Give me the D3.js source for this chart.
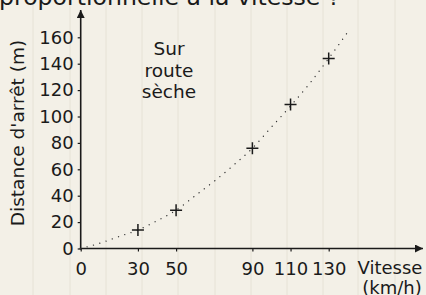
<!DOCTYPE html>
<meta charset="utf-8">
<style>
body { margin: 0; background: #f3f0e7; }
svg { display: block; }
text { font-family: "DejaVu Sans", sans-serif; fill: #1a1a1a; }
</style>
<svg width="426" height="295"></svg>
<script src="https://d3js.org/d3.v7.min.js"></script>
<script>

// measured stopping distances (dry road)
var speeds = [30, 50, 90, 110, 130];
var distances = [14, 29, 76, 109, 144];
var xTicks = [0, 30, 50, 90, 110, 130];
var yTicks = [0, 20, 40, 60, 80, 100, 120, 140, 160];
// dotted trend curve
var curveSpeeds = [0, 10, 20, 30, 40, 50, 60, 70, 80, 90, 100, 110, 120, 130, 140];
var curveDist = [0, 4, 9, 14, 21, 29, 40, 51, 63, 76, 92, 108, 125, 144, 164];

var svg = d3.select("svg");

var x = d3.scaleLinear().domain([0, 130]).range([80.7, 328.7]);
var y = d3.scaleLinear().domain([0, 160]).range([248.5, 37.3]);

// paper lines
var paper = [33, 70, 106, 142, 178, 215, 251, 287, 323, 358, 395];
svg.append("g").selectAll("line").data(paper).enter().append("line")
    .attr("x1", function(d) { return d; }).attr("x2", function(d) { return d; })
    .attr("y1", 0).attr("y2", 295)
    .attr("stroke", "#e6e2d6").attr("stroke-width", 1);

// title, partly cut at the top
svg.append("text").attr("x", -1).attr("y", 4.5)
    .style("font-size", "23.6px")
    .text("proportionnelle à la vitesse ?");

// arrow marker
svg.append("defs").append("marker")
    .attr("id", "arrow")
    .attr("viewBox", "0 0 10 10")
    .attr("refX", 10).attr("refY", 5)
    .attr("markerWidth", 10).attr("markerHeight", 8)
    .attr("markerUnits", "userSpaceOnUse")
    .attr("orient", "auto")
  .append("path").attr("d", "M0,0L10,5L0,10z").attr("fill", "#1a1a1a");

// axes
var xAxis = svg.append("g").attr("transform", "translate(0," + y(0) + ")")
    .call(d3.axisBottom(x).tickValues(xTicks).tickSize(3).tickPadding(11).tickFormat(d3.format("d")));
var yAxis = svg.append("g").attr("transform", "translate(" + x(0) + ",0)")
    .call(d3.axisLeft(y).tickValues(yTicks).tickSize(3).tickPadding(4).tickFormat(d3.format("d")));

[xAxis, yAxis].forEach(function(a) {
  a.select(".domain").remove();
  a.selectAll("line").attr("stroke", "#1a1a1a").attr("stroke-width", 1.2);
  a.selectAll("text").style("font-size", "18px").attr("fill", "#1a1a1a");
});

svg.append("line").attr("x1", x(0) - 1).attr("x2", 423).attr("y1", y(0)).attr("y2", y(0))
    .attr("stroke", "#1a1a1a").attr("stroke-width", 1.6).attr("marker-end", "url(#arrow)");
svg.append("line").attr("x1", x(0)).attr("x2", x(0)).attr("y1", y(0) + 1).attr("y2", 10)
    .attr("stroke", "#1a1a1a").attr("stroke-width", 1.6).attr("marker-end", "url(#arrow)");

// axis titles
svg.append("text").attr("transform", "translate(24,133) rotate(-90)")
    .attr("text-anchor", "middle").style("font-size", "18.5px")
    .text("Distance d'arrêt (m)");
svg.append("text").attr("x", 390).attr("y", 274).attr("text-anchor", "middle")
    .style("font-size", "18px").text("Vitesse");
svg.append("text").attr("x", 392).attr("y", 294).attr("text-anchor", "middle")
    .style("font-size", "18px").text("(km/h)");

// annotation
var note = svg.append("text").attr("text-anchor", "middle").style("font-size", "18.5px");
["Sur", "route", "sèche"].forEach(function(t, i) {
  note.append("tspan").attr("x", 169).attr("y", 55 + i * 21.7).text(t);
});

// dotted curve
var curvePts = curveSpeeds.map(function(v, i) { return [v, curveDist[i]]; });
svg.append("path")
    .datum(curvePts)
    .attr("fill", "none")
    .attr("stroke", "#333")
    .attr("stroke-width", 1.3)
    .attr("stroke-linecap", "round")
    .attr("stroke-dasharray", "0.1,6.5")
    .attr("d", d3.line().x(function(d) { return x(d[0]); }).y(function(d) { return y(d[1]); })
      .curve(d3.curveMonotoneX));

// crosses
var pts = speeds.map(function(v, i) { return {v: v, d: distances[i]}; });
svg.append("g").selectAll("path").data(pts).enter().append("path")
    .attr("d", function(p) {
      var cx = x(p.v), cy = y(p.d), s = 6;
      return "M" + (cx - s) + "," + cy + "H" + (cx + s) + "M" + cx + "," + (cy - s) + "V" + (cy + s);
    })
    .attr("stroke", "#1a1a1a").attr("stroke-width", 1.5);

</script>
